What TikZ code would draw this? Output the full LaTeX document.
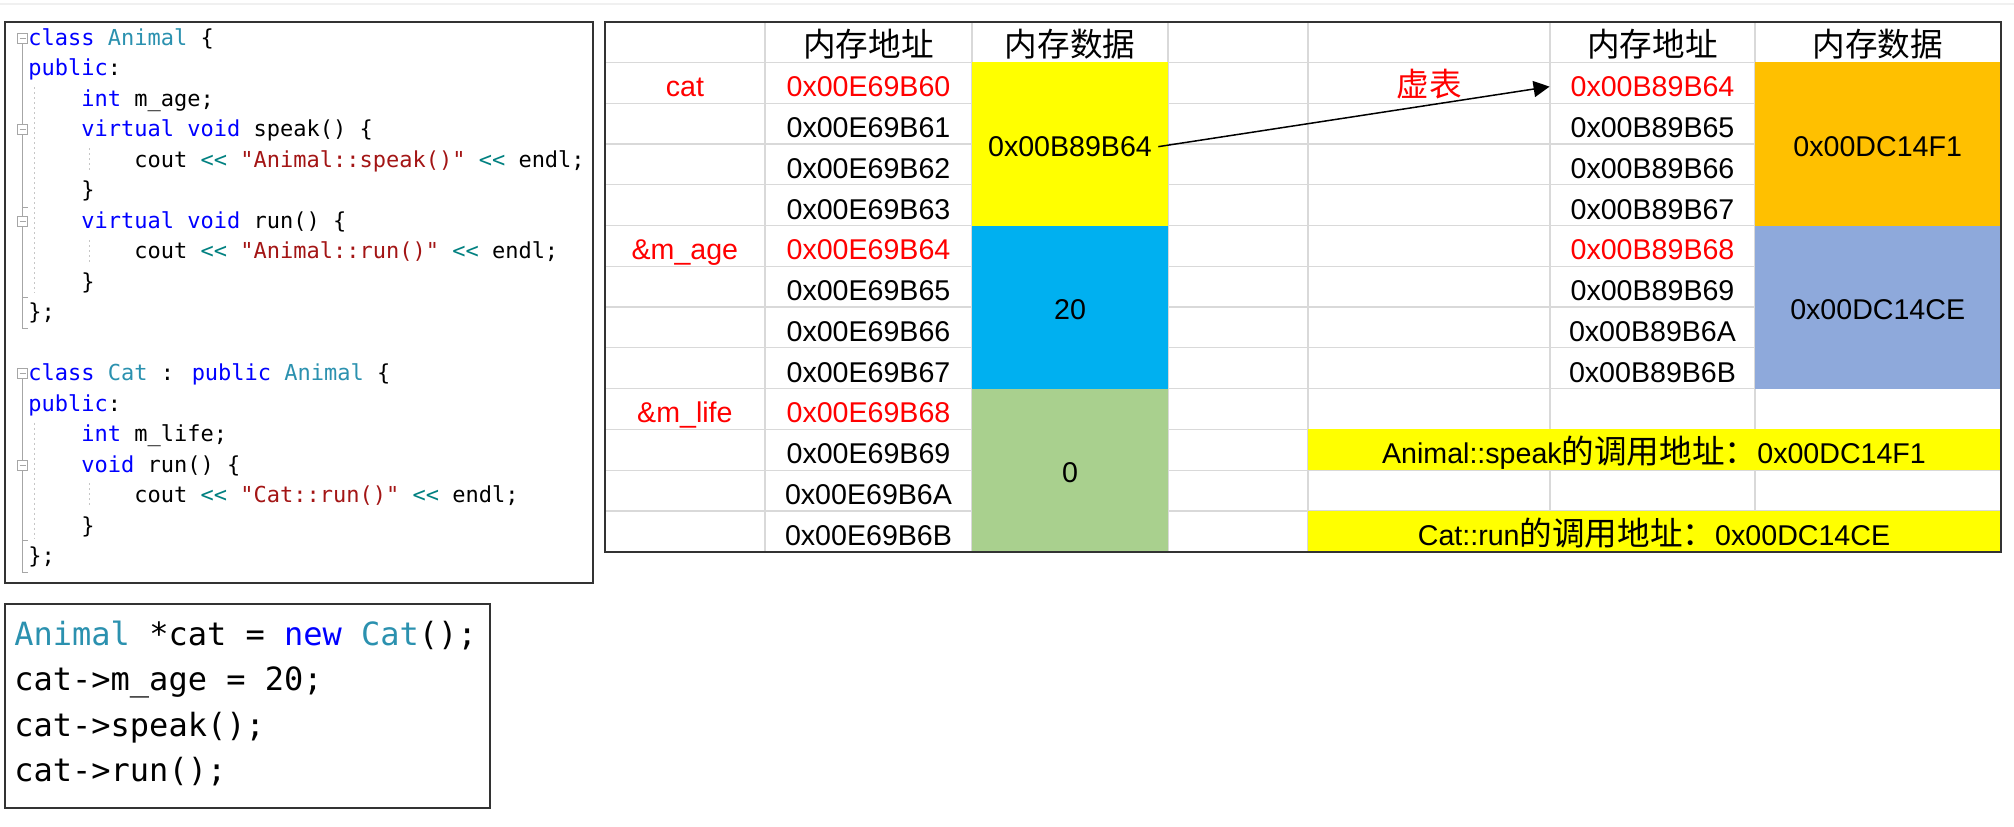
\documentclass[tikz,border=0pt]{standalone}
\usepackage{fontspec}
\setmainfont{Liberation Sans}
\newfontfamily\cjk{Noto Sans CJK SC}
\newfontfamily\codefont[Ligatures=TeXOff]{DejaVu Sans Mono}
\usetikzlibrary{arrows.meta,calc}
\definecolor{kwblue}{HTML}{0000FF}
\definecolor{tyteal}{HTML}{2B91AF}
\definecolor{strred}{HTML}{A31515}
\definecolor{opteal}{HTML}{008080}
\definecolor{cellyellow}{HTML}{FFFF00}
\definecolor{cellblue}{HTML}{00B0F0}
\definecolor{cellgreen}{HTML}{A9D08E}
\definecolor{cellorange}{HTML}{FFC000}
\definecolor{cellslate}{HTML}{8EA9DB}
\definecolor{gridgray}{HTML}{D9D9D9}
\definecolor{addrred}{HTML}{FF0000}
\definecolor{framegray}{HTML}{333333}
\newcommand\cKw[1]{\textcolor{kwblue}{#1}}
\newcommand\cTy[1]{\textcolor{tyteal}{#1}}
\newcommand\cSt[1]{\textcolor{strred}{#1}}
\newcommand\cOp[1]{\textcolor{opteal}{#1}}
\newcommand\zhtext[1]{{\cjk\fontsize{16.3pt}{19pt}\selectfont #1}}
\begin{document}
\begin{tikzpicture}[x=0.5pt,y=-0.5pt,
  codeline/.style={anchor=base west,inner sep=0pt,font={\codefont\fontsize{11pt}{13pt}\selectfont}},
  bigcode/.style={anchor=base west,inner sep=0pt,font={\codefont\fontsize{16pt}{19pt}\selectfont}},
  celltext/.style={anchor=base,inner sep=0pt,font={\fontsize{14.3pt}{17pt}\selectfont}},
  redtext/.style={celltext,text=addrred},
  hdr/.style={anchor=base,inner sep=0pt,font={\cjk\fontsize{16.3pt}{19pt}\selectfont}},
  boxframe/.style={draw=framegray,line width=1pt},
  gridline/.style={draw=gridgray,line width=0.6pt},
  foldline/.style={draw=gray!70,line width=0.5pt},
  foldbox/.style={draw=gray!70,fill=white,line width=0.5pt},
  indentguide/.style={draw=gray!45,line width=0.4pt,dash pattern=on 1pt off 1.5pt},
  topline/.style={draw=gray!12,line width=1pt},
  arrowline/.style={draw=black,line width=0.75pt,-{Triangle[length=8pt,width=8pt]}},
]
\useasboundingbox (0,0) rectangle (2014,826);
\draw[topline] (0,3.7) -- (2014,3.7);

% ---------- code boxes ----------
\draw[boxframe] (4.6,21.7) rectangle (593,582.7);
\draw[boxframe] (4.6,604.3) rectangle (490,808.3);

% fold lines and markers
\draw[foldline] (22.5,43.3) -- (22.5,328) -- (28,328);
\draw[foldline] (22.5,207) -- (28,207);
\draw[foldline] (22.5,297) -- (28,297);
\draw[foldline] (22.5,378.8) -- (22.5,572) -- (28,572);
\draw[foldline] (22.5,540) -- (28,540);
\foreach \yy in {38.3,129.8,221.3,373.8,465.3} {
  \draw[foldbox] (17.5,{\yy-5}) rectangle (27.5,{\yy+5});
  \draw[foldline] (19.5,\yy) -- (25.5,\yy);
}
\draw[indentguide] (34.5,87) -- (34.5,293);
\draw[indentguide] (34.5,422.5) -- (34.5,538);
\draw[indentguide] (89,148) -- (89,172);
\draw[indentguide] (89,240) -- (89,265);
\draw[indentguide] (89,483) -- (89,508);

\node[codeline] (c0)  at (28,45)    {\cKw{class} \cTy{Animal} \{};
\node[codeline] (c1)  at (28,75.5)  {\cKw{public}:};
\node[codeline] (c2)  at (81,106)   {\cKw{int} m\_age;};
\node[codeline] (c3)  at (81,136.5) {\cKw{virtual} \cKw{void} speak() \{};
\node[codeline] (c4)  at (134,167)  {cout \cOp{<<} \cSt{"Animal::speak()"} \cOp{<<} endl;};
\node[codeline] (c5)  at (81,197.5) {\}};
\node[codeline] (c6)  at (81,228)   {\cKw{virtual} \cKw{void} run() \{};
\node[codeline] (c7)  at (134,258.5){cout \cOp{<<} \cSt{"Animal::run()"} \cOp{<<} endl;};
\node[codeline] (c8)  at (81,289)   {\}};
\node[codeline] (c9)  at (28,319.5) {\};};
\node[codeline] (c11) at (28,380.5) {\cKw{class} \cTy{Cat} : \cKw{public} \cTy{Animal} \{};
\node[codeline] (c12) at (28,411)   {\cKw{public}:};
\node[codeline] (c13) at (81,441.5) {\cKw{int} m\_life;};
\node[codeline] (c14) at (81,472)   {\cKw{void} run() \{};
\node[codeline] (c15) at (134,502.5){cout \cOp{<<} \cSt{"Cat::run()"} \cOp{<<} endl;};
\node[codeline] (c16) at (81,533)   {\}};
\node[codeline] (c17) at (28,563.5) {\};};

\node[bigcode] (m0) at (14,645)   {\cTy{Animal} *cat = \cKw{new} \cTy{Cat}();};
\node[bigcode] (m1) at (14,690.5) {cat->m\_age = 20;};
\node[bigcode] (m2) at (14,736)   {cat->speak();};
\node[bigcode] (m3) at (14,781.5) {cat->run();};

% ---------- table ----------
% grid
\foreach \i in {1,...,12} {
  \draw[gridline] (604.7,{21.7+40.77*\i}) -- (2000.5,{21.7+40.77*\i});
}
\foreach \xx in {765,972,1168,1308,1550,1755} {
  \draw[gridline] (\xx,21.7) -- (\xx,551.71);
}
% coloured cells
\fill[cellyellow] (972,62.47) rectangle (1168,225.55);
\fill[cellblue]   (972,225.55) rectangle (1168,388.63);
\fill[cellgreen]  (972,388.63) rectangle (1168,551.71);
\fill[cellorange] (1755,62.47) rectangle (2000.5,225.55);
\fill[cellslate]  (1755,225.55) rectangle (2000.5,388.63);
\fill[cellyellow] (1308,429.4) rectangle (2000.5,470.17);
\fill[cellyellow] (1308,510.94) rectangle (2000.5,551.71);
% outer frame
\draw[boxframe] (604.7,21.7) rectangle (2000.5,551.71);

% headers
\node[hdr] (ha1) at (868.5,56) {内存地址};
\node[hdr] (hd1) at (1070,56) {内存数据};
\node[hdr] (ha2) at (1652.5,56) {内存地址};
\node[hdr] (hd2) at (1877.7,56) {内存数据};

% labels
\node[redtext] (lcat) at (684.9,96.77) {cat};
\node[redtext] (lage) at (684.9,259.85) {\&m\_age};
\node[redtext] (llife) at (684.9,422.93) {\&m\_life};
\node[hdr,text=addrred] (lvt) at (1429,96.77) {虚表};

% object addresses
\node[redtext]  (a0) at (868.5,96.77)  {0x00E69B60};
\node[celltext] (a1) at (868.5,137.54) {0x00E69B61};
\node[celltext] (a2) at (868.5,178.31) {0x00E69B62};
\node[celltext] (a3) at (868.5,219.08) {0x00E69B63};
\node[redtext]  (a4) at (868.5,259.85) {0x00E69B64};
\node[celltext] (a5) at (868.5,300.62) {0x00E69B65};
\node[celltext] (a6) at (868.5,341.39) {0x00E69B66};
\node[celltext] (a7) at (868.5,382.16) {0x00E69B67};
\node[redtext]  (a8) at (868.5,422.93) {0x00E69B68};
\node[celltext] (a9) at (868.5,463.7)  {0x00E69B69};
\node[celltext] (a10) at (868.5,504.47) {0x00E69B6A};
\node[celltext] (a11) at (868.5,545.24) {0x00E69B6B};

% object data
\node[celltext,inner xsep=3pt] (d0) at (1070,156.5) {0x00B89B64};
\node[celltext] (d1) at (1070,319.6) {20};
\node[celltext] (d2) at (1070,482.7) {0};

% vtable addresses
\node[celltext,text=addrred,anchor=center,text height=10.2pt,text depth=0pt,minimum width=102.5pt] (v0) at (1652.5,86.6) {0x00B89B64};
\node[celltext] (v1) at (1652.5,137.54) {0x00B89B65};
\node[celltext] (v2) at (1652.5,178.31) {0x00B89B66};
\node[celltext] (v3) at (1652.5,219.08) {0x00B89B67};
\node[redtext]  (v4) at (1652.5,259.85) {0x00B89B68};
\node[celltext] (v5) at (1652.5,300.62) {0x00B89B69};
\node[celltext] (v6) at (1652.5,341.39) {0x00B89B6A};
\node[celltext] (v7) at (1652.5,382.16) {0x00B89B6B};

% vtable data
\node[celltext] (f0) at (1877.7,156.5) {0x00DC14F1};
\node[celltext] (f1) at (1877.7,319.6) {0x00DC14CE};

% call addresses
\node[celltext] (spk) at (1654,463.7) {Animal::speak\zhtext{的调用地址：}0x00DC14F1};
\node[celltext] (crun) at (1654,545.24) {Cat::run\zhtext{的调用地址：}0x00DC14CE};

% arrow
\draw[arrowline] (d0.east) -- (v0.west);
\end{tikzpicture}
\end{document}
